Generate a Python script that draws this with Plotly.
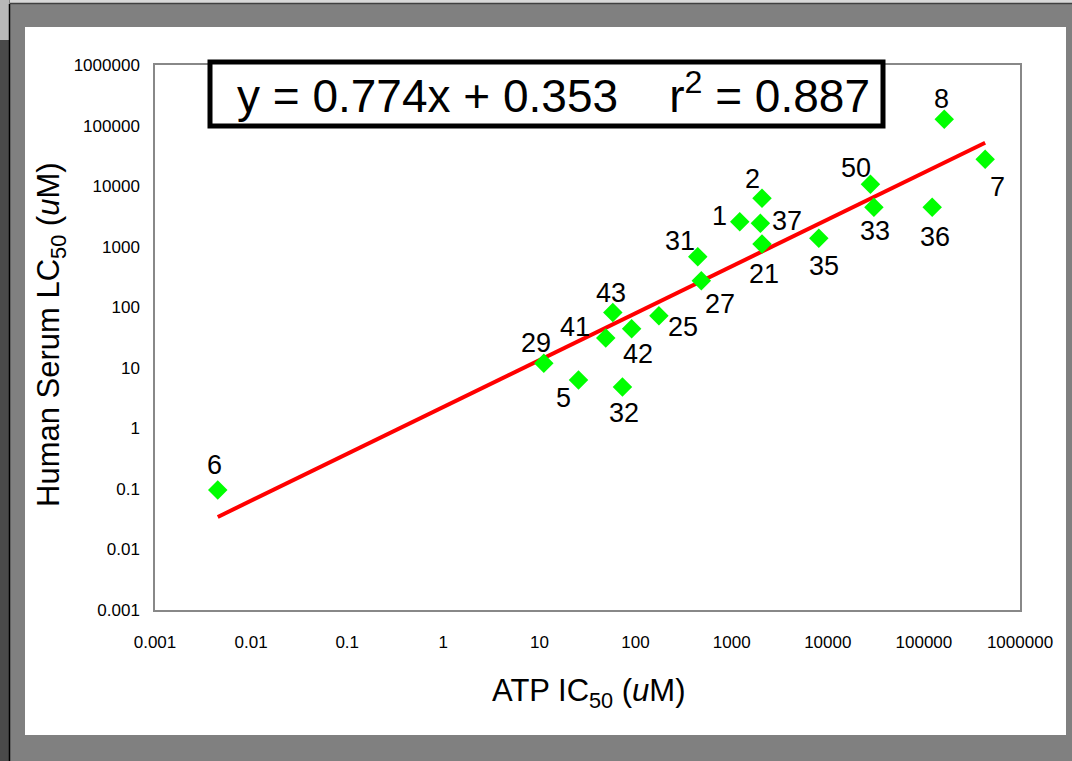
import numpy as np
import plotly.graph_objects as go

# ---- data ----
compound = ["6", "29", "5", "41", "43", "42", "32", "25", "31", "27",
            "1", "2", "37", "21", "35", "50", "33", "36", "8", "7"]
atp_ic50 = [0.0045, 11.1, 25.5, 49, 58, 91, 73, 175, 444, 483,
            1213, 2070, 1990, 2070, 8070, 27800, 30200, 122000, 163000, 434000]
serum_lc50 = [0.096, 11.9, 6.3, 31, 82, 44, 4.8, 72, 684, 274,
              2580, 6300, 2430, 1107, 1375, 10700, 4470, 4470, 127000, 27700]
slope = 0.774
intercept = 0.353
r2 = 0.887
tick_vals = [0.001, 0.01, 0.1, 1, 10, 100, 1000, 10000, 100000, 1000000]
tick_text = ["0.001", "0.01", "0.1", "1", "10", "100", "1000", "10000", "100000", "1000000"]

# label offsets (styling, px: dx right, dy up)
label_dx = [-3, -8, -15, -31, -2, 6, 2, 24, -18, 19, -20, -10, 27, 2, 5, -14, 1, 3, -3, 12]
label_dy = [25, 20, -18, 11, 19, -25, -26, -11, 16, -23, 6, 19, 2, -30, -28, 16, -24, -30, 20, -28]

W, H = 1072, 761
L, R, T, B = 155, 52, 65, 151
PW, PH = W - L - R, H - T - B


def px(x):
    return (x - L) / PW


def py(y):
    return (H - B - y) / PH


FONT = "Liberation Sans, Arial, sans-serif"

fig = go.Figure()

# regression line across data range
xl = np.array([min(atp_ic50), max(atp_ic50)])
yl = 10 ** (slope * np.log10(xl) + intercept)
fig.add_trace(go.Scatter(x=xl, y=yl, mode="lines",
                         line=dict(color="#ff0000", width=4),
                         hoverinfo="skip", showlegend=False))

fig.add_trace(go.Scatter(x=atp_ic50, y=serum_lc50, mode="markers",
                         marker=dict(symbol="diamond", size=15, color="#00ff00",
                                     line=dict(width=0)),
                         text=compound, showlegend=False))

annotations = []
for c, xv, yv, dx, dy in zip(compound, atp_ic50, serum_lc50, label_dx, label_dy):
    annotations.append(dict(x=np.log10(xv), y=np.log10(yv), xref="x", yref="y",
                            text=c, showarrow=False, xshift=dx, yshift=dy,
                            font=dict(family=FONT, size=27, color="black")))

# equation text
annotations.append(dict(x=px(553), y=py(93), xref="paper", yref="paper",
                        text=f"y = {slope}x + {intercept}\u00a0\u00a0\u00a0\u00a0r<sup>2</sup> = {r2}",
                        showarrow=False, xanchor="center", yanchor="middle",
                        font=dict(family=FONT, size=46, color="black")))

# axis titles
annotations.append(dict(x=px(589), y=py(693), xref="paper", yref="paper",
                        text="ATP IC<sub>50</sub> (<i>u</i>M)", showarrow=False,
                        xanchor="center", yanchor="middle",
                        font=dict(family=FONT, size=31, color="black")))
annotations.append(dict(x=px(51), y=py(335), xref="paper", yref="paper",
                        text="Human Serum LC<sub>50</sub> (<i>u</i>M)", showarrow=False,
                        textangle=-90, xanchor="center", yanchor="middle",
                        font=dict(family=FONT, size=31, color="black")))

shapes = [
    # white inner card
    dict(type="rect", xref="paper", yref="paper", x0=px(25), x1=px(1066),
         y0=py(735), y1=py(27), fillcolor="white", line=dict(width=0), layer="below"),
    # left dark edge
    dict(type="rect", xref="paper", yref="paper", x0=px(0), x1=px(9),
         y0=py(761), y1=py(40), fillcolor="#4a4a4a", line=dict(width=0), layer="below"),
    dict(type="rect", xref="paper", yref="paper", x0=px(0), x1=px(9),
         y0=py(40), y1=py(0), fillcolor="#b8b8b8", line=dict(width=0), layer="below"),
    dict(type="line", xref="paper", yref="paper", x0=px(9.5), x1=px(9.5),
         y0=py(761), y1=py(4), line=dict(color="black", width=1.5), layer="below"),
    # top strip
    dict(type="rect", xref="paper", yref="paper", x0=px(10), x1=px(1072),
         y0=py(3), y1=py(0), fillcolor="#d8d8d8", line=dict(width=0), layer="below"),
    dict(type="line", xref="paper", yref="paper", x0=px(10), x1=px(1072),
         y0=py(3.5), y1=py(3.5), line=dict(color="#404040", width=1.5), layer="below"),
    # equation box
    dict(type="rect", xref="paper", yref="paper", x0=px(210), x1=px(883),
         y0=py(126), y1=py(62), fillcolor="white",
         line=dict(color="black", width=5), layer="above"),
]

fig.update_layout(
    width=W, height=H,
    margin=dict(l=L, r=R, t=T, b=B, pad=0),
    paper_bgcolor="#808080", plot_bgcolor="white",
    font=dict(family=FONT, color="black"),
    annotations=annotations, shapes=shapes,
    xaxis=dict(type="log", range=[-3, 6], tickvals=tick_vals, ticktext=tick_text,
               showgrid=False, zeroline=False, showline=True, mirror=True,
               linecolor="#888888", linewidth=1.5, ticks="",
               tickfont=dict(family=FONT, size=17, color="black"),
               ticklabelstandoff=16),
    yaxis=dict(type="log", range=[-3, 6], tickvals=tick_vals, ticktext=tick_text,
               showgrid=False, zeroline=False, showline=True, mirror=True,
               linecolor="#888888", linewidth=1.5, ticks="",
               tickfont=dict(family=FONT, size=17, color="black"),
               ticklabelstandoff=10),
)

fig.write_html("out.html", config={"displayModeBar": False},
               post_script="document.body.style.margin='0';document.body.style.overflow='hidden';")
